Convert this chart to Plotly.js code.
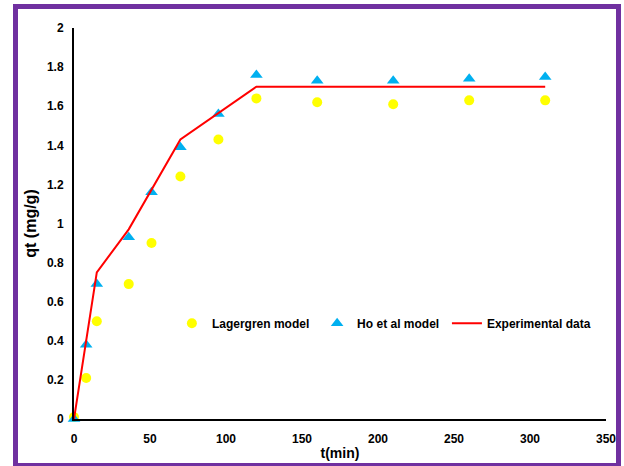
<!DOCTYPE html>
<html>
<head>
<meta charset="utf-8">
<script src="https://cdn.plot.ly/plotly-3.0.1.min.js"></script>
<style>
html,body{margin:0;padding:0;background:#fff;overflow:hidden;}
#wrap{position:relative;width:624px;height:466px;overflow:hidden;}
#chart{position:absolute;left:0;top:0;width:624px;height:466px;}
#frame{position:absolute;left:13px;top:4px;width:598px;height:454px;border:5px solid #7030A0;pointer-events:none;}
</style>
</head>
<body>
<div id="wrap"><div id="chart"></div><div id="frame"></div></div>
<script>
// Lagergren model (pseudo-first-order)
const lagT = [0, 8, 15, 36, 51, 70, 95, 120, 160, 210, 260, 310];
const lagQ = [0.01, 0.21, 0.50, 0.69, 0.90, 1.24, 1.43, 1.64, 1.62, 1.61, 1.63, 1.63];
// Ho et al model (pseudo-second-order)
const hoT = [0, 8, 15, 36, 51, 70, 95, 120, 160, 210, 260, 310];
const hoQ = [0.0, 0.38, 0.69, 0.93, 1.16, 1.39, 1.56, 1.76, 1.73, 1.73, 1.74, 1.75];
// Experimental data
const expT = [0, 15, 36, 70, 120, 160, 210, 260, 310];
const expQ = [0, 0.75, 0.97, 1.43, 1.70, 1.70, 1.70, 1.70, 1.70];

const fontFam = '"Liberation Sans Narrow", "Liberation Sans", Arial, sans-serif';
const legFont = {family: fontFam, size: 12, weight: 'bold', color: '#000'};

const traces = [
  {x: lagT, y: lagQ, name: 'Lagergren model', type: 'scatter', mode: 'markers', legend: 'legend',
   marker: {symbol: 'circle', size: 10, color: '#FFFF00'}, cliponaxis: false},
  {x: hoT, y: hoQ, name: 'Ho et al model', type: 'scatter', mode: 'markers', legend: 'legend2',
   marker: {symbol: 'triangle-up', size: 11, color: '#00B0F0'}, cliponaxis: false},
  {x: expT, y: expQ, name: 'Experimental data', type: 'scatter', mode: 'lines', legend: 'legend3',
   line: {color: '#FF0000', width: 2}, cliponaxis: false}
];

function leg(x) {
  return {x: x, y: 0.245, xanchor: 'left', yanchor: 'middle', orientation: 'h',
          bgcolor: 'rgba(0,0,0,0)', font: legFont};
}

const layout = {
  width: 624, height: 466,
  margin: {l: 74, r: 18, t: 28, b: 47},
  paper_bgcolor: '#ffffff', plot_bgcolor: '#ffffff',
  font: {family: fontFam, size: 12, color: '#000', weight: 'bold'},
  showlegend: true,
  legend: leg(0.184),
  legend2: leg(0.457),
  legend3: leg(0.701),
  xaxis: {range: [0, 350], dtick: 50, tick0: 0, showgrid: false, zeroline: false,
          showline: true, linecolor: '#000', linewidth: 2, ticks: '', ticklen: 0,
          ticklabelstandoff: 8,
          tickfont: {family: fontFam, size: 12, weight: 'bold'},
          title: {text: 't(min)', font: {family: fontFam, size: 14, weight: 'bold'}, standoff: 3}},
  yaxis: {range: [0, 2], dtick: 0.2, tick0: 0, showgrid: false, zeroline: false,
          showline: true, linecolor: '#000', linewidth: 2, ticks: '', ticklen: 0,
          ticklabelstandoff: 6,
          tickfont: {family: fontFam, size: 12, weight: 'bold'},
          title: {text: 'qt (mg/g)', font: {family: fontFam, size: 16, weight: 'bold'}, standoff: 6}}
};

Plotly.newPlot('chart', traces, layout, {displayModeBar: false, staticPlot: true});
</script>
</body>
</html>
